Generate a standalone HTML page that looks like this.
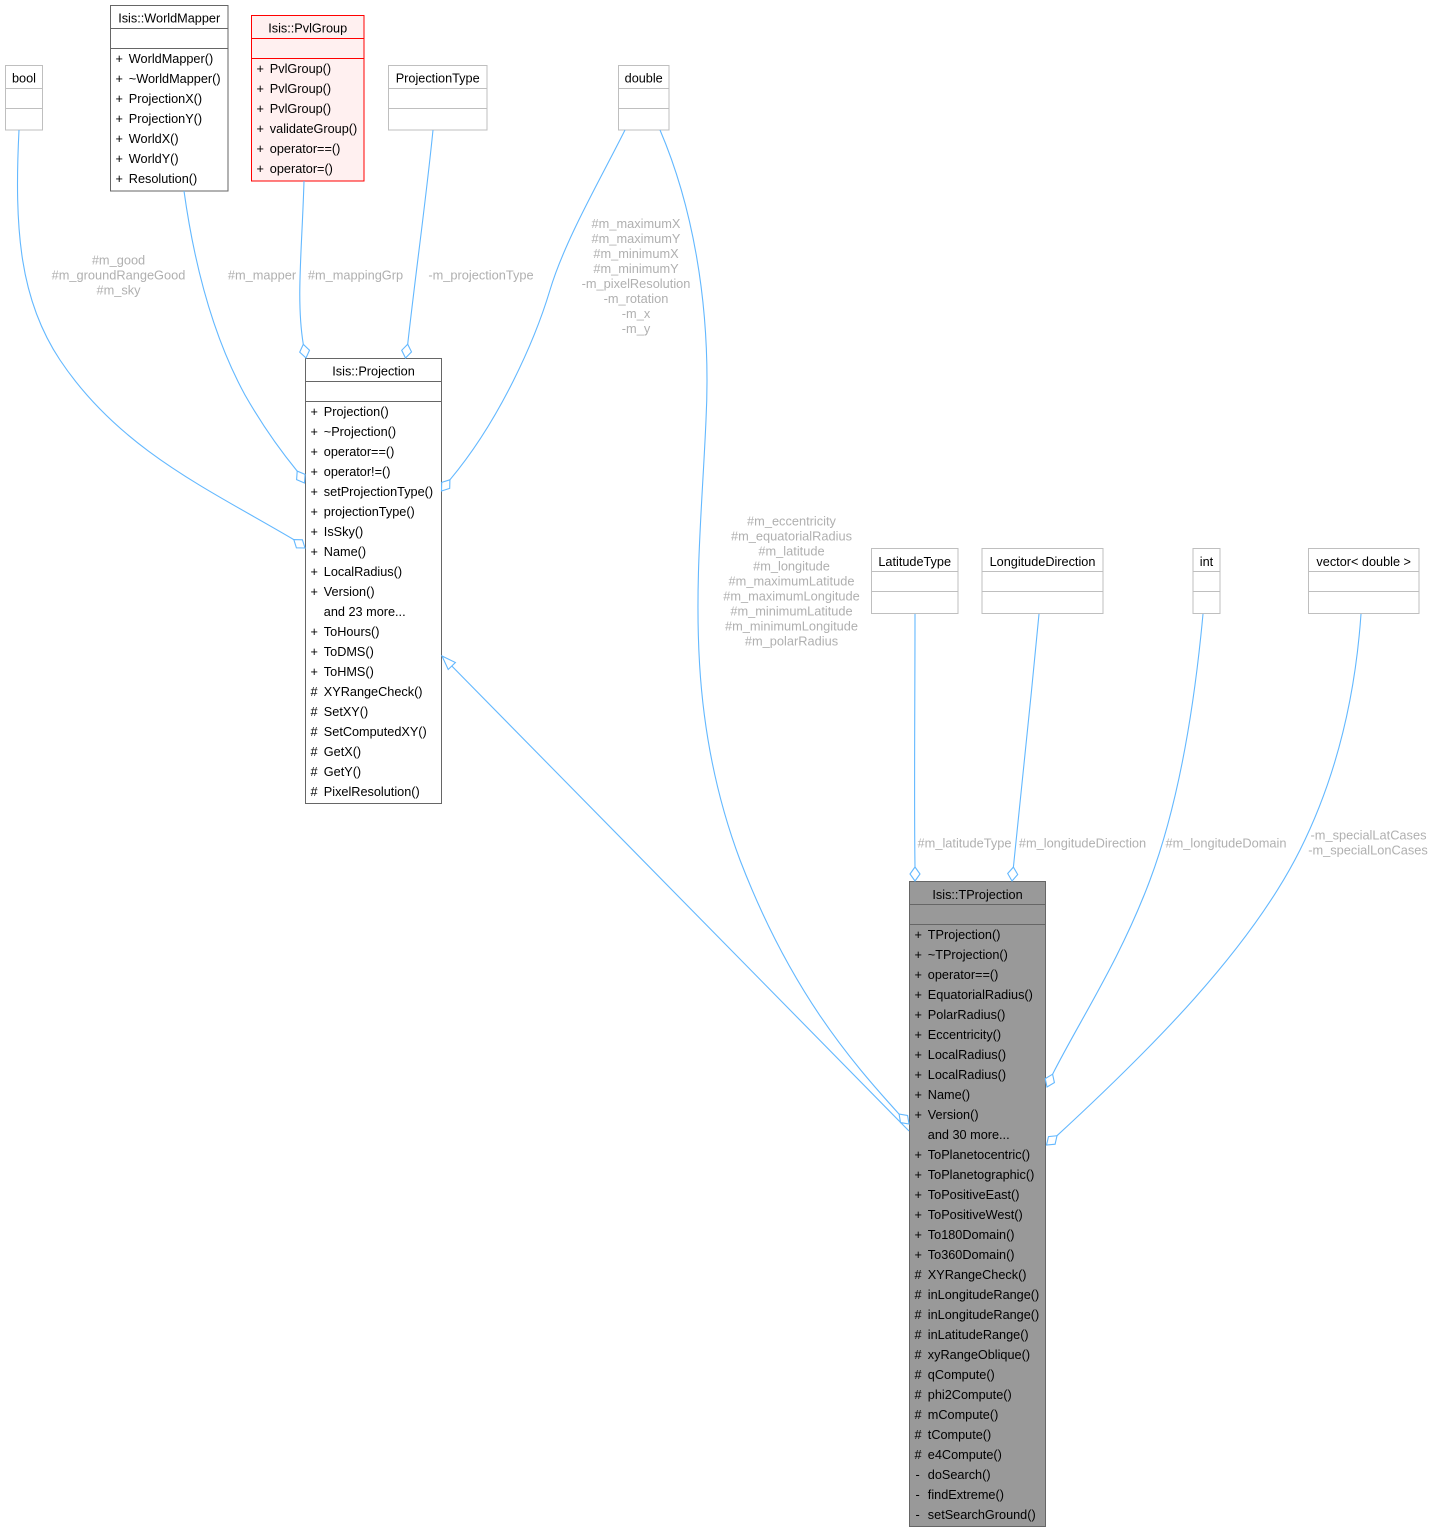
<!DOCTYPE html>
<html>
<head>
<meta charset="utf-8">
<style>
  html, body { margin: 0; padding: 0; background: #ffffff; }
  svg { display: block; }
  text { font-family: "Liberation Sans", Arial, sans-serif; }
  .t { font-size: 12.7px; fill: #000000; }
  .lbl { font-size: 12.8px; fill: #b0b0b0; text-anchor: middle; }
  .hd { text-anchor: middle; }
  .edge { fill: none; stroke: #63b8ff; stroke-width: 1.1; }
  .arr { fill: #ffffff; stroke: #63b8ff; stroke-width: 1.1; stroke-linejoin: miter; }
</style>
</head>
<body>
<svg width="1435" height="1533" viewBox="0 0 1435 1533" xmlns="http://www.w3.org/2000/svg">
  <rect x="0" y="0" width="1435" height="1533" fill="#ffffff"/>

  <!-- ===== Nodes ===== -->
  <!-- bool -->
  <rect x="5.5" y="65.5" width="37" height="64.5" fill="#ffffff" stroke="#bfbfbf" stroke-width="1"/>
  <line x1="5.5" y1="88.5" x2="42.5" y2="88.5" stroke="#bfbfbf"/>
  <line x1="5.5" y1="108.5" x2="42.5" y2="108.5" stroke="#bfbfbf"/>
  <text class="t hd" x="24" y="82.5">bool</text>

  <!-- Isis::WorldMapper -->
  <rect x="110.5" y="5.5" width="117.5" height="185.5" fill="#ffffff" stroke="#666666" stroke-width="1"/>
  <line x1="110.5" y1="28.5" x2="228" y2="28.5" stroke="#666666"/>
  <line x1="110.5" y1="48.5" x2="228" y2="48.5" stroke="#666666"/>
  <text class="t hd" x="169.2" y="22.5">Isis::WorldMapper</text>
  <g class="t">
    <text x="115.5" y="63.2">+</text><text x="128.8" y="63.2">WorldMapper()</text>
    <text x="115.5" y="83.2">+</text><text x="128.8" y="83.2">~WorldMapper()</text>
    <text x="115.5" y="103.2">+</text><text x="128.8" y="103.2">ProjectionX()</text>
    <text x="115.5" y="123.2">+</text><text x="128.8" y="123.2">ProjectionY()</text>
    <text x="115.5" y="143.2">+</text><text x="128.8" y="143.2">WorldX()</text>
    <text x="115.5" y="163.2">+</text><text x="128.8" y="163.2">WorldY()</text>
    <text x="115.5" y="183.2">+</text><text x="128.8" y="183.2">Resolution()</text>
  </g>

  <!-- Isis::PvlGroup -->
  <rect x="251.5" y="15.5" width="112.5" height="165.5" fill="#fff0f0" stroke="#ff0000" stroke-width="1"/>
  <line x1="251.5" y1="38.5" x2="364" y2="38.5" stroke="#ff0000"/>
  <line x1="251.5" y1="58.5" x2="364" y2="58.5" stroke="#ff0000"/>
  <text class="t hd" x="307.7" y="32.5">Isis::PvlGroup</text>
  <g class="t">
    <text x="256.5" y="73.2">+</text><text x="269.8" y="73.2">PvlGroup()</text>
    <text x="256.5" y="93.2">+</text><text x="269.8" y="93.2">PvlGroup()</text>
    <text x="256.5" y="113.2">+</text><text x="269.8" y="113.2">PvlGroup()</text>
    <text x="256.5" y="133.2">+</text><text x="269.8" y="133.2">validateGroup()</text>
    <text x="256.5" y="153.2">+</text><text x="269.8" y="153.2">operator==()</text>
    <text x="256.5" y="173.2">+</text><text x="269.8" y="173.2">operator=()</text>
  </g>

  <!-- ProjectionType -->
  <rect x="388.5" y="65.5" width="98.5" height="64.5" fill="#ffffff" stroke="#bfbfbf" stroke-width="1"/>
  <line x1="388.5" y1="88.5" x2="487" y2="88.5" stroke="#bfbfbf"/>
  <line x1="388.5" y1="108.5" x2="487" y2="108.5" stroke="#bfbfbf"/>
  <text class="t hd" x="437.7" y="82.5">ProjectionType</text>

  <!-- double -->
  <rect x="618.5" y="65.5" width="50.5" height="64.5" fill="#ffffff" stroke="#bfbfbf" stroke-width="1"/>
  <line x1="618.5" y1="88.5" x2="669" y2="88.5" stroke="#bfbfbf"/>
  <line x1="618.5" y1="108.5" x2="669" y2="108.5" stroke="#bfbfbf"/>
  <text class="t hd" x="643.7" y="82.5">double</text>

  <!-- Isis::Projection -->
  <rect x="305.5" y="358.5" width="136" height="445" fill="#ffffff" stroke="#666666" stroke-width="1"/>
  <line x1="305.5" y1="381.5" x2="441.5" y2="381.5" stroke="#666666"/>
  <line x1="305.5" y1="401.5" x2="441.5" y2="401.5" stroke="#666666"/>
  <text class="t hd" x="373.5" y="375.5">Isis::Projection</text>
  <g class="t">
    <text x="310.5" y="416.2">+</text><text x="323.8" y="416.2">Projection()</text>
    <text x="310.5" y="436.2">+</text><text x="323.8" y="436.2">~Projection()</text>
    <text x="310.5" y="456.2">+</text><text x="323.8" y="456.2">operator==()</text>
    <text x="310.5" y="476.2">+</text><text x="323.8" y="476.2">operator!=()</text>
    <text x="310.5" y="496.2">+</text><text x="323.8" y="496.2">setProjectionType()</text>
    <text x="310.5" y="516.2">+</text><text x="323.8" y="516.2">projectionType()</text>
    <text x="310.5" y="536.2">+</text><text x="323.8" y="536.2">IsSky()</text>
    <text x="310.5" y="556.2">+</text><text x="323.8" y="556.2">Name()</text>
    <text x="310.5" y="576.2">+</text><text x="323.8" y="576.2">LocalRadius()</text>
    <text x="310.5" y="596.2">+</text><text x="323.8" y="596.2">Version()</text>
    <text x="323.8" y="616.2">and 23 more...</text>
    <text x="310.5" y="636.2">+</text><text x="323.8" y="636.2">ToHours()</text>
    <text x="310.5" y="656.2">+</text><text x="323.8" y="656.2">ToDMS()</text>
    <text x="310.5" y="676.2">+</text><text x="323.8" y="676.2">ToHMS()</text>
    <text x="310.5" y="696.2">#</text><text x="323.8" y="696.2">XYRangeCheck()</text>
    <text x="310.5" y="716.2">#</text><text x="323.8" y="716.2">SetXY()</text>
    <text x="310.5" y="736.2">#</text><text x="323.8" y="736.2">SetComputedXY()</text>
    <text x="310.5" y="756.2">#</text><text x="323.8" y="756.2">GetX()</text>
    <text x="310.5" y="776.2">#</text><text x="323.8" y="776.2">GetY()</text>
    <text x="310.5" y="796.2">#</text><text x="323.8" y="796.2">PixelResolution()</text>
  </g>

  <!-- LatitudeType -->
  <rect x="871.5" y="548.5" width="86.5" height="65" fill="#ffffff" stroke="#bfbfbf" stroke-width="1"/>
  <line x1="871.5" y1="571.5" x2="958" y2="571.5" stroke="#bfbfbf"/>
  <line x1="871.5" y1="591.5" x2="958" y2="591.5" stroke="#bfbfbf"/>
  <text class="t hd" x="914.7" y="566">LatitudeType</text>

  <!-- LongitudeDirection -->
  <rect x="982" y="548.5" width="121" height="65" fill="#ffffff" stroke="#bfbfbf" stroke-width="1"/>
  <line x1="982" y1="571.5" x2="1103" y2="571.5" stroke="#bfbfbf"/>
  <line x1="982" y1="591.5" x2="1103" y2="591.5" stroke="#bfbfbf"/>
  <text class="t hd" x="1042.5" y="566">LongitudeDirection</text>

  <!-- int -->
  <rect x="1193" y="548.5" width="27" height="65" fill="#ffffff" stroke="#bfbfbf" stroke-width="1"/>
  <line x1="1193" y1="571.5" x2="1220" y2="571.5" stroke="#bfbfbf"/>
  <line x1="1193" y1="591.5" x2="1220" y2="591.5" stroke="#bfbfbf"/>
  <text class="t hd" x="1206.5" y="566">int</text>

  <!-- vector< double > -->
  <rect x="1308.5" y="548.5" width="110.5" height="65" fill="#ffffff" stroke="#bfbfbf" stroke-width="1"/>
  <line x1="1308.5" y1="571.5" x2="1419" y2="571.5" stroke="#bfbfbf"/>
  <line x1="1308.5" y1="591.5" x2="1419" y2="591.5" stroke="#bfbfbf"/>
  <text class="t hd" x="1363.7" y="566">vector&lt; double &gt;</text>

  <!-- Isis::TProjection -->
  <rect x="909.5" y="881.5" width="136" height="645" fill="#999999" stroke="#666666" stroke-width="1"/>
  <line x1="909.5" y1="904.5" x2="1045.5" y2="904.5" stroke="#666666"/>
  <line x1="909.5" y1="924.5" x2="1045.5" y2="924.5" stroke="#666666"/>
  <text class="t hd" x="977.5" y="899">Isis::TProjection</text>
  <g class="t">
    <text x="914.5" y="939.2">+</text><text x="927.8" y="939.2">TProjection()</text>
    <text x="914.5" y="959.2">+</text><text x="927.8" y="959.2">~TProjection()</text>
    <text x="914.5" y="979.2">+</text><text x="927.8" y="979.2">operator==()</text>
    <text x="914.5" y="999.2">+</text><text x="927.8" y="999.2">EquatorialRadius()</text>
    <text x="914.5" y="1019.2">+</text><text x="927.8" y="1019.2">PolarRadius()</text>
    <text x="914.5" y="1039.2">+</text><text x="927.8" y="1039.2">Eccentricity()</text>
    <text x="914.5" y="1059.2">+</text><text x="927.8" y="1059.2">LocalRadius()</text>
    <text x="914.5" y="1079.2">+</text><text x="927.8" y="1079.2">LocalRadius()</text>
    <text x="914.5" y="1099.2">+</text><text x="927.8" y="1099.2">Name()</text>
    <text x="914.5" y="1119.2">+</text><text x="927.8" y="1119.2">Version()</text>
    <text x="927.8" y="1139.2">and 30 more...</text>
    <text x="914.5" y="1159.2">+</text><text x="927.8" y="1159.2">ToPlanetocentric()</text>
    <text x="914.5" y="1179.2">+</text><text x="927.8" y="1179.2">ToPlanetographic()</text>
    <text x="914.5" y="1199.2">+</text><text x="927.8" y="1199.2">ToPositiveEast()</text>
    <text x="914.5" y="1219.2">+</text><text x="927.8" y="1219.2">ToPositiveWest()</text>
    <text x="914.5" y="1239.2">+</text><text x="927.8" y="1239.2">To180Domain()</text>
    <text x="914.5" y="1259.2">+</text><text x="927.8" y="1259.2">To360Domain()</text>
    <text x="914.5" y="1279.2">#</text><text x="927.8" y="1279.2">XYRangeCheck()</text>
    <text x="914.5" y="1299.2">#</text><text x="927.8" y="1299.2">inLongitudeRange()</text>
    <text x="914.5" y="1319.2">#</text><text x="927.8" y="1319.2">inLongitudeRange()</text>
    <text x="914.5" y="1339.2">#</text><text x="927.8" y="1339.2">inLatitudeRange()</text>
    <text x="914.5" y="1359.2">#</text><text x="927.8" y="1359.2">xyRangeOblique()</text>
    <text x="914.5" y="1379.2">#</text><text x="927.8" y="1379.2">qCompute()</text>
    <text x="914.5" y="1399.2">#</text><text x="927.8" y="1399.2">phi2Compute()</text>
    <text x="914.5" y="1419.2">#</text><text x="927.8" y="1419.2">mCompute()</text>
    <text x="914.5" y="1439.2">#</text><text x="927.8" y="1439.2">tCompute()</text>
    <text x="914.5" y="1459.2">#</text><text x="927.8" y="1459.2">e4Compute()</text>
    <text x="915.5" y="1479.2">-</text><text x="927.8" y="1479.2">doSearch()</text>
    <text x="915.5" y="1499.2">-</text><text x="927.8" y="1499.2">findExtreme()</text>
    <text x="915.5" y="1519.2">-</text><text x="927.8" y="1519.2">setSearchGround()</text>
  </g>

  <!-- ===== Edges ===== -->
  <!-- bool -> Projection -->
  <path class="edge" d="M19,130 C14,230 20,300 60,360 C120,450 210,490 293.8,539.6"/>
  <polygon class="arr" points="305,548 296.4,547.8 293.8,539.6 302.4,539.8"/>

  <!-- WorldMapper -> Projection -->
  <path class="edge" d="M184,191 C195,270 215,340 245,395 C265,430 284,455 297.2,471.1"/>
  <polygon class="arr" points="304.5,483 296.6,479.6 297.2,471.1 305.1,474.4"/>

  <!-- PvlGroup -> Projection -->
  <path class="edge" d="M304,181 C302,250 296,300 303.3,344.3"/>
  <polygon class="arr" points="306,358 299.7,352.1 303.3,344.3 309.5,350.2"/>

  <!-- ProjectionType -> Projection -->
  <path class="edge" d="M433,130 C426,200 416,270 407.7,344.2"/>
  <polygon class="arr" points="405.5,358 401.7,350.3 407.7,344.2 411.5,351.9"/>

  <!-- double -> Projection -->
  <path class="edge" d="M625,130 C600,180 565,240 550,290 C535,340 500,420 449.9,479.8"/>
  <polygon class="arr" points="441.5,491 441.7,482.4 449.9,479.8 449.7,488.4"/>

  <!-- double -> TProjection -->
  <path class="edge" d="M660,130 C690,200 712,300 706,420 C700,560 680,700 740,860 C790,990 850,1060 899.1,1114.1"/>
  <polygon class="arr" points="909,1124 900.5,1122.6 899.1,1114.1 907.6,1115.5"/>

  <!-- TProjection -> Projection (inheritance) -->
  <path class="edge" d="M909,1131 L451.8,666"/>
  <polygon class="arr" points="442,656 455.4,662.5 448.2,669.5"/>

  <!-- LatitudeType -> TProjection -->
  <path class="edge" d="M915,614 C915,700 914,800 915,867"/>
  <polygon class="arr" points="915,881 910,874 915,867 920,874"/>

  <!-- LongitudeDirection -> TProjection -->
  <path class="edge" d="M1039,614 C1031,700 1020,800 1013.4,867.1"/>
  <polygon class="arr" points="1012,881 1007.7,873.5 1013.4,867.1 1017.7,874.5"/>

  <!-- int -> TProjection -->
  <path class="edge" d="M1203,614 C1195,700 1180,800 1150,880 C1120,960 1080,1020 1052.6,1074.2"/>
  <polygon class="arr" points="1047,1087 1045.2,1078.6 1052.6,1074.2 1054.4,1082.6"/>

  <!-- vector<double> -> TProjection -->
  <path class="edge" d="M1361,614 C1355,700 1335,780 1300,850 C1250,950 1150,1050 1057,1135.7"/>
  <polygon class="arr" points="1046.5,1145 1048.5,1136.6 1057,1135.7 1055.1,1144.2"/>

  <!-- ===== Edge labels ===== -->
  <g class="lbl">
    <text x="118.5" y="264.5">#m_good</text>
    <text x="118.5" y="279.5">#m_groundRangeGood</text>
    <text x="118.5" y="294.5">#m_sky</text>

    <text x="262" y="279.5">#m_mapper</text>
    <text x="355.5" y="279.5">#m_mappingGrp</text>
    <text x="481" y="279.5">-m_projectionType</text>

    <text x="636" y="227.8">#m_maximumX</text>
    <text x="636" y="242.8">#m_maximumY</text>
    <text x="636" y="257.8">#m_minimumX</text>
    <text x="636" y="272.8">#m_minimumY</text>
    <text x="636" y="287.8">-m_pixelResolution</text>
    <text x="636" y="302.8">-m_rotation</text>
    <text x="636" y="317.8">-m_x</text>
    <text x="636" y="332.8">-m_y</text>

    <text x="791.5" y="525.5">#m_eccentricity</text>
    <text x="791.5" y="540.5">#m_equatorialRadius</text>
    <text x="791.5" y="555.5">#m_latitude</text>
    <text x="791.5" y="570.5">#m_longitude</text>
    <text x="791.5" y="585.5">#m_maximumLatitude</text>
    <text x="791.5" y="600.5">#m_maximumLongitude</text>
    <text x="791.5" y="615.5">#m_minimumLatitude</text>
    <text x="791.5" y="630.5">#m_minimumLongitude</text>
    <text x="791.5" y="645.5">#m_polarRadius</text>

    <text x="964.5" y="847.5">#m_latitudeType</text>
    <text x="1082.5" y="847.5">#m_longitudeDirection</text>
    <text x="1226" y="847.5">#m_longitudeDomain</text>

    <text x="1368.5" y="839.5">-m_specialLatCases</text>
    <text x="1368" y="854.5">-m_specialLonCases</text>
  </g>
</svg>
</body>
</html>
